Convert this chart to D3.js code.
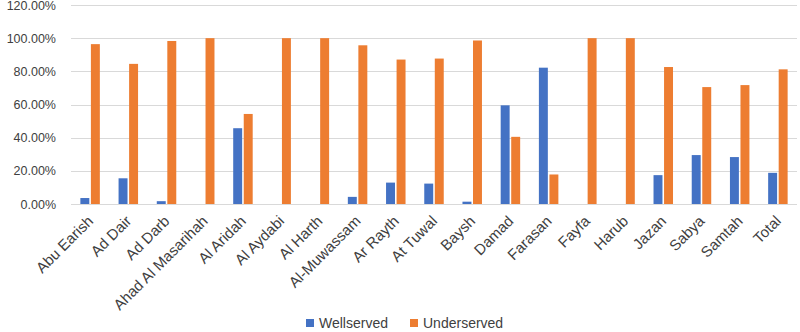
<!DOCTYPE html>
<html>
<head>
<meta charset="utf-8">
<script src="https://cdn.jsdelivr.net/npm/d3@7"></script>
<style>
  body { margin: 0; background: #fff; }
  text { font-family: "Liberation Sans", Arial, sans-serif; fill: #404040; }
</style>
</head>
<body>
<svg id="chart" width="800" height="332"></svg>
<script>
var categories = ["Abu Earish", "Ad Dair", "Ad Darb", "Ahad Al Masarihah", "Al Aridah",
  "Al Aydabi", "Al Harth", "Al-Muwassam", "Ar Rayth", "At Tuwal", "Baysh", "Damad",
  "Farasan", "Fayfa", "Harub", "Jazan", "Sabya", "Samtah", "Total"];
var wellserved = [3.6, 15.5, 1.7, 0, 45.7, 0, 0, 4.3, 12.9, 12.3, 1.4, 59.5, 82.2, 0, 0, 17.4, 29.5, 28.3, 18.8];
var underserved = [96.4, 84.5, 98.3, 100, 54.3, 100, 100, 95.7, 87.1, 87.7, 98.6, 40.5, 17.8, 100, 100, 82.6, 70.5, 71.7, 81.2];
var seriesNames = ["Wellserved", "Underserved"];
var yTicks = [0, 20, 40, 60, 80, 100, 120];

var render = function() {
  var margin = { top: 5, right: 3, bottom: 128, left: 71 },
    width = 800 - margin.left - margin.right,
    height = 332 - margin.top - margin.bottom;

  var svg = d3.select("#chart");
  var canvas = svg.append("g")
    .attr("transform", "translate(" + margin.left + "," + margin.top + ")");

  var color = d3.scaleOrdinal()
    .domain(seriesNames)
    .range(["#4472C4", "#ED7D31"]);

  var x0 = d3.scaleBand()
    .domain(categories)
    .range([0, width])
    .paddingInner(0.49)
    .paddingOuter(0.245);

  var x1 = d3.scaleBand()
    .domain(seriesNames)
    .range([0, x0.bandwidth()])
    .paddingInner(0.15);

  var y = d3.scaleLinear()
    .domain([0, 120])
    .range([height, 0]);

  // gridlines
  canvas.append("g")
    .selectAll("line")
    .data(yTicks)
    .enter().append("line")
    .attr("x1", 0)
    .attr("x2", width)
    .attr("y1", function(d) { return Math.round(y(d)) + 0.5; })
    .attr("y2", function(d) { return Math.round(y(d)) + 0.5; })
    .style("stroke", "#d9d9d9")
    .style("stroke-width", 1);

  // y axis labels
  var yAxis = d3.axisLeft(y)
    .tickValues(yTicks)
    .tickSize(0)
    .tickPadding(15)
    .tickFormat(function(d) { return d.toFixed(2) + "%"; });

  canvas.append("g")
    .attr("class", "y axis")
    .call(yAxis)
    .call(function(g) { g.select(".domain").remove(); })
    .selectAll("text")
    .style("font-size", "12.5px")
    .style("fill", "#404040");

  var data = categories.map(function(c, i) {
    return { cat: c, values: [
      { key: "Wellserved", value: wellserved[i] },
      { key: "Underserved", value: underserved[i] }
    ]};
  });

  var groups = canvas.selectAll(".group")
    .data(data)
    .enter().append("g")
    .attr("class", "group")
    .attr("transform", function(d) { return "translate(" + x0(d.cat) + ",0)"; });

  groups.selectAll("rect")
    .data(function(d) { return d.values; })
    .enter().append("rect")
    .attr("x", function(d) { return x1(d.key); })
    .attr("y", function(d) { return y(d.value); })
    .attr("width", x1.bandwidth())
    .attr("height", function(d) { return height - y(d.value); })
    .style("fill", function(d) { return color(d.key); });

  // x axis labels
  var xAxis = d3.axisBottom(x0).tickSize(0).tickPadding(0);
  canvas.append("g")
    .attr("class", "x axis")
    .attr("transform", "translate(0," + height + ")")
    .call(xAxis)
    .call(function(g) { g.select(".domain").remove(); })
    .selectAll("text")
    .style("font-size", "15px")
    .style("fill", "#404040")
    .style("text-anchor", "end")
    .attr("dy", "0")
    .attr("transform", "translate(4,18) rotate(-45)");

  // legend
  var legendX = [306, 410];
  var legend = svg.selectAll(".legend")
    .data(seriesNames)
    .enter().append("g")
    .attr("class", "legend")
    .attr("transform", function(d, i) { return "translate(" + legendX[i] + ",319)"; });

  legend.append("rect")
    .attr("width", 8)
    .attr("height", 8)
    .style("fill", color);

  legend.append("text")
    .attr("x", 13)
    .attr("y", 9)
    .style("font-size", "14px")
    .style("fill", "#404040")
    .text(function(d) { return d; });
};

render();
</script>
</body>
</html>
